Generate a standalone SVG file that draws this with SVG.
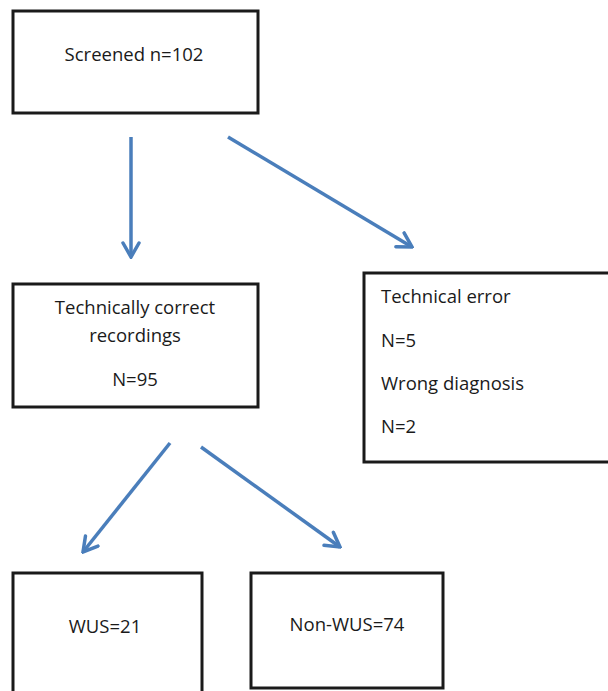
<svg xmlns="http://www.w3.org/2000/svg" width="608" height="691" viewBox="0 0 608 691">
<style>
.box{fill:#fff;stroke:#1a1a1a;stroke-width:3}
.t{font-family:"Open Sans","Liberation Sans",sans-serif;font-size:18.5px;fill:#1a1a1a}
.c{text-anchor:middle}
.arr{stroke:#4a7ebb;stroke-width:3.5;fill:none;marker-end:url(#ah)}
</style>
<defs>
<marker id="ah" viewBox="0 0 18 20" refX="16" refY="10" markerWidth="18" markerHeight="20" markerUnits="userSpaceOnUse" orient="auto">
<path d="M2,2 L16,10 L2,18" fill="none" stroke="#4a7ebb" stroke-width="3.5" stroke-linecap="round" stroke-linejoin="miter"/>
</marker>
</defs>
<rect width="608" height="691" fill="#fff"/>
<g id="connectors">
<line class="arr" x1="131" y1="137" x2="131" y2="257"/>
<line class="arr" x1="228" y1="137" x2="412" y2="247"/>
<line class="arr" x1="170" y1="443" x2="83" y2="552"/>
<line class="arr" x1="201" y1="447" x2="340" y2="547"/>
</g>
<g id="screened">
<rect class="box" x="13" y="11" width="245" height="102"/>
<text class="t c" x="134" y="61">Screened n=102</text>
</g>
<g id="correct">
<rect class="box" x="13" y="284" width="245" height="123"/>
<text class="t c" x="135" y="314">Technically correct</text>
<text class="t c" x="135" y="342">recordings</text>
<text class="t c" x="135" y="386">N=95</text>
</g>
<g id="excluded">
<rect class="box" x="364" y="273" width="260" height="189"/>
<text class="t" x="381" y="303">Technical error</text>
<text class="t" x="381" y="347">N=5</text>
<text class="t" x="381" y="390">Wrong diagnosis</text>
<text class="t" x="381" y="433">N=2</text>
</g>
<g id="wus">
<rect class="box" x="13" y="573" width="189" height="130"/>
<text class="t c" x="105" y="633">WUS=21</text>
</g>
<g id="nonwus">
<rect class="box" x="251" y="573" width="192" height="115"/>
<text class="t c" x="347" y="631">Non-WUS=74</text>
</g>
</svg>
